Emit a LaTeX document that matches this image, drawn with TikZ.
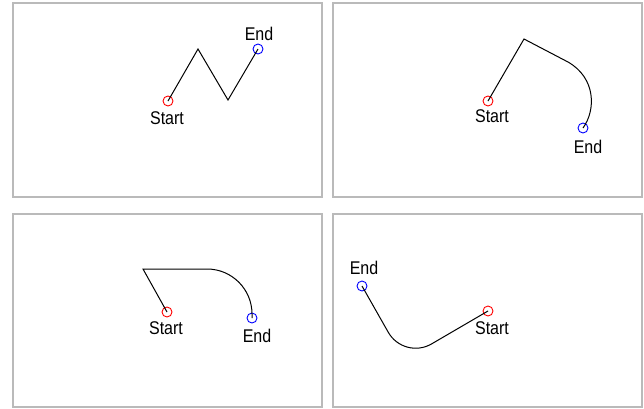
\documentclass[tikz,border=0pt]{standalone}
\usepackage{fontspec}
\setmainfont{Liberation Sans}
\usetikzlibrary{positioning}

\begin{document}
\begin{tikzpicture}[x=1pt,y=-1pt,
  every node/.style={font=\fontsize{16}{16}\selectfont},
  frame/.style={draw=black!27,line width=2pt},
  startpt/.style={circle,draw=red,line width=0.9pt,minimum size=10pt,inner sep=0pt},
  endpt/.style={circle,draw=blue,line width=0.9pt,minimum size=10pt,inner sep=0pt},
  trail/.style={black,line width=1pt}]
\useasboundingbox (0,0) rectangle (644,408);
% top left: zigzag
\draw[frame] (13,3) rectangle (322,197);
\node[startpt] (s1) at (168,101) {};
\node[endpt] (e1) at (258,49) {};
\node (s1lbl) at (167,118.5) {\scalebox{1}[1.15]{Start}};
\node (e1lbl) at (259,33.5) {\scalebox{1}[1.15]{End}};
\draw[trail] (s1.center) -- (198,49) -- (228,100) -- (e1.center);
% top right: line then curve
\draw[frame] (333,3) rectangle (642,197);
\node[startpt] (s2) at (488,101) {};
\node[endpt] (e2) at (583,128) {};
\node (s2lbl) at (492,116.5) {\scalebox{1}[1.15]{Start}};
\node (e2lbl) at (588,147) {\scalebox{1}[1.15]{End}};
\draw[trail] (s2.center) -- (524,39) -- (568,62) .. controls (596,78) and (596,110) .. (e2.center);
% bottom left: line, flat, arc
\draw[frame] (13,214) rectangle (322,407);
\node[startpt] (s3) at (167,312) {};
\node[endpt] (e3) at (252,318) {};
\node (s3lbl) at (166,328) {\scalebox{1}[1.15]{Start}};
\node (e3lbl) at (257,336) {\scalebox{1}[1.15]{End}};
\draw[trail] (s3.center) -- (143,269) -- (207,269) arc[start angle=-90,end angle=0,radius=45] -- (e3.center);
% bottom right: rounded dip
\draw[frame] (333,214) rectangle (642,407);
\node[startpt] (s4) at (488,311) {};
\node[endpt] (e4) at (362,286) {};
\node (s4lbl) at (492,328) {\scalebox{1}[1.15]{Start}};
\node (e4lbl) at (364,268) {\scalebox{1}[1.15]{End}};
\draw[trail,rounded corners=32pt] (e4.center) -- (404,360) -- (s4.center);
\end{tikzpicture}
\end{document}
